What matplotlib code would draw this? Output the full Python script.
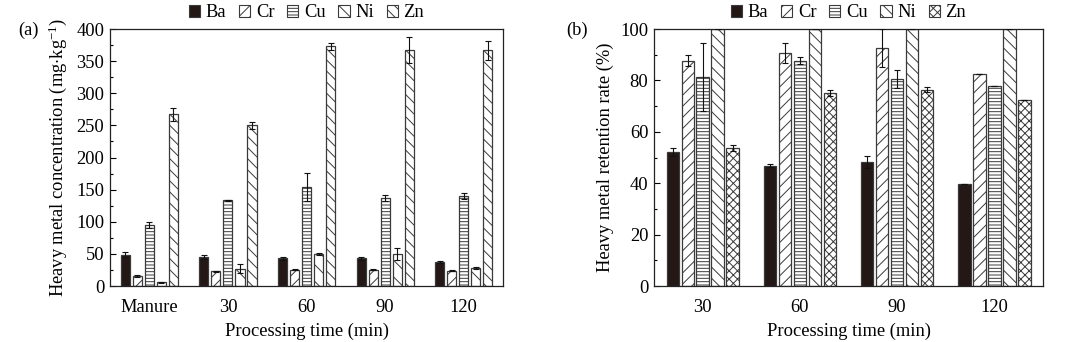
import matplotlib
matplotlib.use("Agg")
import matplotlib.pyplot as plt
import numpy as np
from matplotlib.patches import Patch

plt.rcParams['font.family'] = ['Liberation Serif', 'DejaVu Serif']
plt.rcParams['mathtext.fontset'] = 'custom'
plt.rcParams['mathtext.rm'] = 'Liberation Serif'
plt.rcParams['mathtext.it'] = 'Liberation Serif:italic'
plt.rcParams['hatch.linewidth'] = 0.7
plt.rcParams['hatch.color'] = '#2a2a2a'

metals = ['Ba', 'Cr', 'Cu', 'Ni', 'Zn']

# Panel (a): concentration (mg/kg)
cats_a = ['Manure', '30', '60', '90', '120']
conc = {
    'Ba': [49, 45, 43, 43, 37.5],
    'Cr': [15.5, 23, 25.5, 25.5, 24],
    'Cu': [94.5, 133.5, 154, 137, 140],
    'Ni': [6, 26.5, 49.5, 49.5, 28],
    'Zn': [267.5, 250, 373, 367, 367],
}
conc_err = {
    'Ba': [4.5, 3.5, 2, 2, 2],
    'Cr': [1, 0.5, 0.5, 1, 0.5],
    'Cu': [4.5, 1, 22, 5, 5],
    'Ni': [1, 7, 2, 9, 1],
    'Zn': [10, 5, 5, 20, 15],
}

# Panel (b): retention rate (%)
cats_b = ['30', '60', '90', '120']
ret = {
    'Ba': [52, 46.8, 48.2, 39.6],
    'Cr': [87.7, 90.6, 92.6, 82.5],
    'Cu': [81.2, 87.7, 80.6, 78],
    'Ni': [100, 100, 100, 100],
    'Zn': [53.6, 75.1, 76.4, 72.2],
}
ret_err = {
    'Ba': [1.6, 0.5, 2.2, 0],
    'Cr': [2.2, 3.8, 7.5, 0],
    'Cu': [13.2, 1.5, 3.4, 0],
    'Ni': [0, 0, 0, 0],
    'Zn': [1.1, 1.3, 1.0, 0],
}

edge = '#3a3a3a'
fill_ba = '#231815'

hatch_a = {'Ba': '', 'Cr': '///', 'Cu': '-----', 'Ni': '\\\\', 'Zn': '\\\\\\'}
hatch_b = {'Ba': '', 'Cr': '///', 'Cu': '-----', 'Ni': '\\\\\\', 'Zn': 'xxxx'}

fig = plt.figure(figsize=(10.8, 3.42), dpi=100)
axa = fig.add_axes([0.1019, 0.1637, 0.3639, 0.7515])
axb = fig.add_axes([0.6056, 0.1637, 0.3602, 0.7515])

FS = 13.3


def draw(ax, cats, vals, errs, hatches, step, width, ymax, major, minor, ylabel, ylpad):
    x = np.arange(len(cats))
    for i, m in enumerate(metals):
        pos = x + (i - 2) * step
        ax.bar(pos, vals[m], width=width,
               color=fill_ba if m == 'Ba' else 'white',
               edgecolor=edge, linewidth=0.9, hatch=hatches[m], zorder=2)
        ax.errorbar(pos, vals[m], yerr=errs[m], fmt='none', ecolor='#111111',
                    elinewidth=0.8, capsize=2.5, capthick=0.8, zorder=3)
    ax.set_xlim(-0.5, len(cats) - 0.5)
    ax.set_ylim(0, ymax)
    ax.set_xticks(x)
    ax.set_xticklabels(cats, fontsize=FS)
    ax.set_yticks(np.arange(0, ymax + 0.1, major))
    ax.set_yticks(np.arange(0, ymax + 0.1, minor), minor=True)
    ax.tick_params(axis='y', which='major', direction='in', length=4, width=0.8,
                   labelsize=FS, pad=4)
    ax.tick_params(axis='y', which='minor', direction='in', length=2, width=0.8)
    ax.tick_params(axis='x', length=0, pad=9, labelsize=FS)
    for s in ax.spines.values():
        s.set_linewidth(0.9)
        s.set_color('#222222')
    ax.set_xlabel('Processing time (min)', fontsize=FS, labelpad=5)
    ax.set_ylabel(ylabel, fontsize=FS, labelpad=ylpad)

    handles = [Patch(facecolor=fill_ba if m == 'Ba' else 'white', edgecolor=edge,
                     hatch=hatches[m], linewidth=0.8, label=m) for m in metals]
    ax.legend(handles=handles, ncol=5, frameon=False, loc='lower center',
              bbox_to_anchor=(0.5, 1.03), fontsize=FS, handlelength=0.6,
              handleheight=0.6, handletextpad=0.3, columnspacing=0.7,
              borderaxespad=0.0, borderpad=0.0)


draw(axa, cats_a, conc, conc_err, hatch_a, 0.153, 0.115, 400, 50, 25,
     r'Heavy metal concentration (mg$\cdot$kg$^{-1}$)', 5.5)
draw(axb, cats_b, ret, ret_err, hatch_b, 0.154, 0.127, 100, 20, 10,
     'Heavy metal retention rate (%)', 4.5)

fig.text(18 / 1080, 1 - 30 / 342, '(a)', fontsize=FS, va='center', ha='left')
fig.text(566 / 1080, 1 - 30 / 342, '(b)', fontsize=FS, va='center', ha='left')

fig.savefig('out.png', dpi=100, facecolor='white')
